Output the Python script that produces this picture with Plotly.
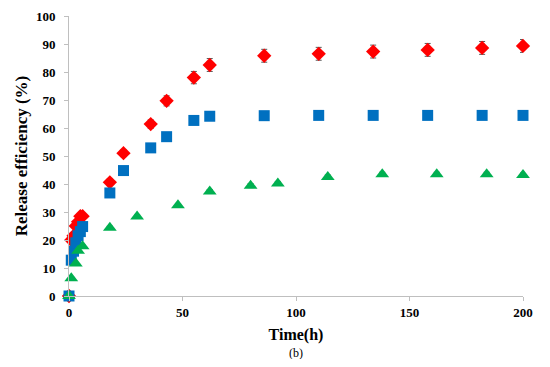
import plotly.graph_objects as go

# Data
time_rb = [0, 1, 2, 3, 4, 5, 6, 18, 24, 36, 43, 55, 62, 86, 110, 134, 158, 182, 200]
red_vals = [0, 20, 21.5, 25, 26.5, 28.5, 28.5, 40.6, 51, 61.4, 69.7, 78, 82.5, 85.8, 86.5, 87.3, 87.9, 88.6, 89.3]
red_err = [0, 1, 1, 1, 1, 1, 1, 1.2, 1.2, 1.5, 1.8, 2.2, 2.3, 2.3, 2.3, 2.3, 2.3, 2.3, 2.3]
blue_vals = [0, 12.8, 16, 19, 21.5, 23, 24.8, 36.8, 44.8, 52.9, 56.9, 62.7, 64.2, 64.4, 64.5, 64.5, 64.5, 64.5, 64.5]
blue_err = [0, 0.5, 0.5, 0.5, 0.5, 0.5, 0.5, 0.7, 0.7, 0.7, 0.7, 1, 1, 1, 1, 1, 1, 1, 1]
time_g = [0, 1, 3, 4, 6, 18, 30, 48, 62, 80, 92, 114, 138, 162, 184, 200]
green_vals = [0, 6.3, 11.6, 16.2, 17.8, 24.4, 28.4, 32.4, 37.3, 39.4, 40.2, 42.5, 43.5, 43.5, 43.5, 43.2]
green_err = [0, 0.4, 0.4, 0.4, 0.4, 0.5, 0.5, 0.6, 0.7, 0.7, 0.7, 0.7, 0.7, 0.7, 0.7, 0.7]

x_ticks = [0, 50, 100, 150, 200]
y_ticks = [0, 10, 20, 30, 40, 50, 60, 70, 80, 90, 100]

FONT = "Liberation Serif"
ERR_COLOR = "#595959"
AXIS_COLOR = "#BFBFBF"

fig = go.Figure()
fig.add_trace(go.Scatter(
    x=time_rb, y=red_vals, mode="markers",
    marker=dict(symbol="diamond", size=11, color="#FF0000"),
    error_y=dict(type="data", array=red_err, color=ERR_COLOR, thickness=1, width=3),
    cliponaxis=False, showlegend=False))
fig.add_trace(go.Scatter(
    x=time_rb, y=blue_vals, mode="markers",
    marker=dict(symbol="square", size=11, color="#0070C0"),
    error_y=dict(type="data", array=blue_err, color=ERR_COLOR, thickness=1, width=3),
    cliponaxis=False, showlegend=False))
fig.add_trace(go.Scatter(
    x=time_g, y=green_vals, mode="markers",
    marker=dict(symbol="triangle-up", size=12, color="#00B050"),
    error_y=dict(type="data", array=green_err, color=ERR_COLOR, thickness=1, width=3),
    cliponaxis=False, showlegend=False))

# page body has an 8px margin; size the figure so the plot lands where the reference's does
fig.update_layout(
    width=534, height=351,
    margin=dict(l=61, r=19, t=8, b=63, autoexpand=False),
    paper_bgcolor="white", plot_bgcolor="white",
    font=dict(family=FONT, color="black"),
    xaxis=dict(
        range=[0, 200], tickvals=x_ticks, ticktext=[str(v) for v in x_ticks],
        showgrid=False, zeroline=False, showline=True, linecolor=AXIS_COLOR, linewidth=1,
        ticks="outside", ticklen=4, tickcolor=AXIS_COLOR,
        tickfont=dict(family=FONT, size=13, color="black", weight="bold"),
        title=dict(text="<b>Time(h)</b>", font=dict(family=FONT, size=16, color="black"), standoff=10),
        automargin=False,
    ),
    yaxis=dict(
        range=[0, 100], tickvals=y_ticks, ticktext=[str(v) for v in y_ticks],
        showgrid=False, zeroline=False, showline=True, linecolor=AXIS_COLOR, linewidth=1,
        ticks="outside", ticklen=4, tickcolor=AXIS_COLOR, ticklabelstandoff=6,
        tickfont=dict(family=FONT, size=13, color="black", weight="bold"),
        title=dict(text="<b>Release efficiency (%)</b>", font=dict(family=FONT, size=17, color="black"), standoff=3),
        automargin=False,
    ),
    annotations=[dict(
        text="(b)", xref="paper", yref="paper", x=0.5, y=-0.204, yanchor="middle",
        showarrow=False, font=dict(family=FONT, size=12, color="black"))],
)

fig.write_html("out.html")
